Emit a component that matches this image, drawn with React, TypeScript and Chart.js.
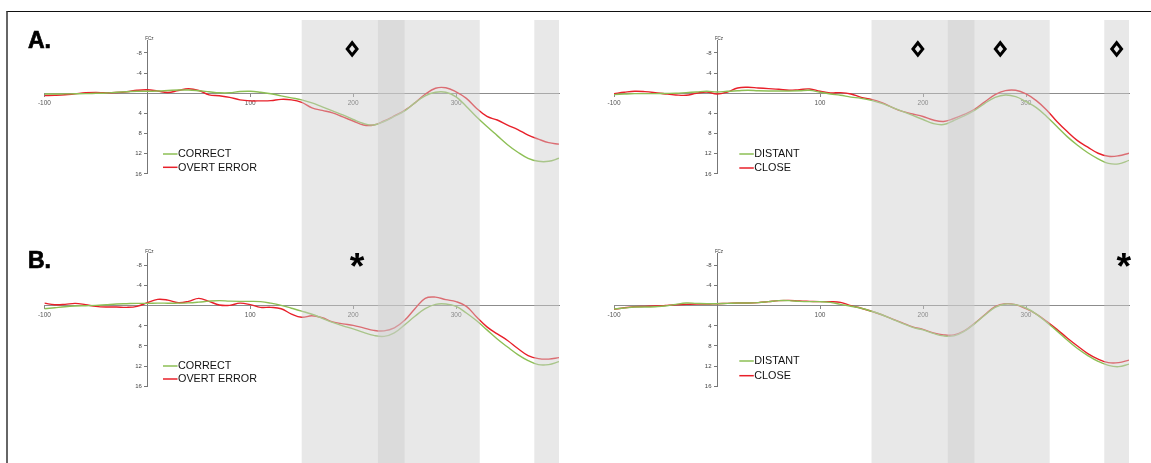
import React, { useEffect, useRef } from "react";
import { Chart, registerables } from "chart.js";

Chart.register(...registerables);

// ---------- data ----------
const TIMES = [
  -100, -90, -80, -70, -60, -50, -40, -30, -20, -10,
  0, 10, 20, 30, 40, 50, 60, 70, 80, 90,
  100, 110, 120, 130, 140, 150, 160, 170, 180, 190,
  200, 210, 220, 230, 240, 250, 260, 270, 280, 290,
  300, 310, 320, 330, 340, 350, 360, 370, 380, 390, 400,
];

const X_TICKS = [-100, 100, 200, 300];
const Y_TICKS = [-8, -4, 4, 8, 12, 16];
const BANDS = [
  [150, 250],
  [224, 323],
  [376, 400],
];

const A_CORRECT = [
  0.15, 0.15, 0.12, 0.1, 0.07, 0.0, -0.07, -0.2, -0.3, -0.4,
  -0.4, -0.45, -0.55, -0.65, -0.65, -0.5, -0.3, -0.1, -0.1, -0.35,
  -0.4, -0.2, 0.1, 0.5, 0.9, 1.3, 1.9, 2.7, 3.5, 4.3,
  5.2, 6.0, 6.3, 5.6, 4.6, 3.5, 1.9, 0.5, -0.2, -0.2,
  0.7, 2.6, 4.7, 6.6, 8.4, 10.2, 11.7, 12.9, 13.5, 13.5, 12.9,
];
const A_OVERT = [
  0.45, 0.4, 0.3, 0.1, -0.1, -0.15, -0.1, -0.15, -0.3, -0.6,
  -0.7, -0.45, -0.15, -0.55, -0.9, -0.55, 0.3, 0.5, 0.8, 1.3,
  1.5, 1.5, 1.45, 1.2, 1.3, 1.8, 2.9, 3.4, 3.9, 4.7,
  5.5, 6.3, 6.3, 5.5, 4.5, 3.4, 1.9, 0.2, -1.0, -1.1,
  -0.3, 1.0, 3.0, 4.6, 5.3, 6.3, 7.2, 8.3, 9.1, 9.8, 10.1,
];
const A_DISTANT = [
  0.26, 0.15, 0.07, 0.07, 0.07, 0.03, 0.0, -0.13, -0.26, -0.4,
  -0.26, -0.4, -0.5, -0.6, -0.5, -0.46, -0.46, -0.46, -0.5, -0.6,
  -0.2, 0.13, 0.4, 0.75, 1.0, 1.4, 2.0, 2.8, 3.6, 4.4,
  5.2, 6.0, 6.2, 5.4, 4.5, 3.4, 2.0, 0.8, 0.33, 0.66,
  1.66, 2.85, 4.6, 6.6, 8.6, 10.3, 11.8, 13.0, 13.9, 14.0, 13.3,
];
const A_CLOSE = [
  0.07, -0.2, -0.4, -0.33, -0.13, 0.13, 0.33, 0.4, 0.0, -0.26,
  0.13, -0.26, -1.06, -1.2, -1.06, -0.93, -0.8, -0.6, -0.73, -0.86,
  -0.4, -0.07, -0.13, 0.13, 0.8, 1.2, 1.85, 2.8, 3.6, 4.1,
  4.6, 5.3, 5.6, 5.0, 4.2, 3.2, 1.7, 0.26, -0.53, -0.6,
  0.13, 1.45, 3.3, 5.6, 7.6, 9.4, 10.7, 11.9, 12.5, 12.4, 11.9,
];
const B_CORRECT = [
  0.6, 0.4, 0.2, 0.07, 0.0, -0.07, -0.2, -0.33, -0.4, -0.46,
  -0.46, -0.5, -0.5, -0.5, -0.55, -0.7, -0.9, -1.0, -0.9, -0.86,
  -0.86, -0.8, -0.5, -0.07, 0.5, 1.08, 1.7, 2.5, 3.3, 4.0,
  4.6, 5.3, 5.9, 6.1, 5.4, 3.8, 2.1, 0.6, -0.26, -0.33,
  0.13, 1.46, 3.0, 4.8, 6.6, 8.2, 9.7, 10.9, 11.7, 11.7, 11.1,
];
const B_OVERT = [
  -0.5, -0.2, -0.26, -0.46, -0.2, 0.13, 0.26, 0.26, 0.33, 0.13,
  -0.6, -1.26, -1.1, -0.6, -0.86, -1.46, -0.86, -0.13, -0.07, -0.5,
  -0.2, 0.33, 0.33, 0.6, 1.66, 2.3, 2.0, 2.4, 3.2, 3.6,
  3.9, 4.4, 4.9, 5.0, 4.4, 2.9, 0.6, -1.46, -1.7, -1.2,
  -0.8, 0.13, 2.25, 4.2, 5.6, 6.9, 8.5, 9.9, 10.5, 10.6, 10.3,
];
const B_DISTANT = [
  0.66, 0.46, 0.26, 0.26, 0.2, 0.07, -0.26, -0.53, -0.46, -0.4,
  -0.4, -0.46, -0.53, -0.53, -0.6, -0.8, -1.0, -1.0, -0.86, -0.8,
  -0.8, -0.66, -0.26, 0.1, 0.5, 1.1, 1.8, 2.65, 3.5, 4.3,
  4.8, 5.5, 6.0, 6.0, 5.1, 3.6, 1.9, 0.33, -0.33, -0.2,
  0.46, 1.66, 3.3, 5.0, 6.8, 8.5, 9.9, 11.06, 11.85, 12.1, 11.6,
];
const B_CLOSE = [
  0.73, 0.4, 0.2, 0.13, 0.07, -0.07, -0.2, -0.26, -0.33, -0.33,
  -0.4, -0.46, -0.53, -0.53, -0.6, -0.8, -1.0, -1.06, -0.93, -0.86,
  -0.8, -0.8, -0.66, 0.0, 0.5, 1.1, 1.8, 2.6, 3.4, 4.2,
  4.7, 5.4, 5.8, 5.8, 5.0, 3.5, 1.8, 0.2, -0.4, -0.2,
  0.6, 1.66, 3.1, 4.7, 6.4, 8.0, 9.5, 10.6, 11.3, 11.3, 10.8,
];

const LABELS_ERROR = ["CORRECT", "OVERT ERROR"];
const LABELS_DIST = ["DISTANT", "CLOSE"];

const A_LEFT_MARKS = [199];
const A_RIGHT_MARKS = [195, 275, 388];
const B_LEFT_MARKS = [197];
const B_RIGHT_MARKS = [388];

// ---------- styling ----------
const GREEN = "#8dbf55";
const RED = "#e8202a";
const FONT = '"Liberation Sans", Arial, sans-serif';

type PanelCfg = {
  left: number;
  top: number;
  w: number;
  h: number;
  xl: number;
  xr: number;
  yt: number;
  yb: number;
  bandTop: number;
  green: number[];
  red: number[];
  labels: string[];
  legendX: number;
  legendY: number[];
  marks: number[];
  markType: "diamond" | "star";
  markY: number;
};

const PANELS: PanelCfg[] = [
  {
    left: 0, top: 0, w: 575, h: 240,
    xl: 44.4, xr: 559, yt: 40.9, yb: 173.9, bandTop: 20,
    green: A_CORRECT, red: A_OVERT, labels: LABELS_ERROR,
    legendX: 163, legendY: [154, 167.3],
    marks: A_LEFT_MARKS, markType: "diamond", markY: -8.8,
  },
  {
    left: 575, top: 0, w: 576, h: 240,
    xl: 39, xr: 554, yt: 40.9, yb: 173.9, bandTop: 20,
    green: A_DISTANT, red: A_CLOSE, labels: LABELS_DIST,
    legendX: 164.3, legendY: [154, 168],
    marks: A_RIGHT_MARKS, markType: "diamond", markY: -8.8,
  },
  {
    left: 0, top: 240, w: 575, h: 223,
    xl: 44.4, xr: 559, yt: 13.3, yb: 146.3, bandTop: 0,
    green: B_CORRECT, red: B_OVERT, labels: LABELS_ERROR,
    legendX: 163, legendY: [126, 139],
    marks: B_LEFT_MARKS, markType: "star", markY: -7.1,
  },
  {
    left: 575, top: 240, w: 576, h: 223,
    xl: 39, xr: 554, yt: 13.3, yb: 146.3, bandTop: 0,
    green: B_DISTANT, red: B_CLOSE, labels: LABELS_DIST,
    legendX: 164.3, legendY: [121, 135.7],
    marks: B_RIGHT_MARKS, markType: "star", markY: -7.1,
  },
];

function makeOverlay(p: PanelCfg) {
  return {
    id: "overlay",
    afterDraw(chart: any) {
      const ctx: CanvasRenderingContext2D = chart.ctx;
      const xs = chart.scales.x;
      const ys = chart.scales.y;
      const area = chart.chartArea;
      ctx.save();

      // y tick labels (left of the centred axis)
      const ax = xs.getPixelForValue(0);
      ctx.font = `6px ${FONT}`;
      ctx.fillStyle = "#444";
      ctx.textAlign = "right";
      ctx.textBaseline = "middle";
      ys.ticks.forEach((t: any) => {
        ctx.fillText(String(t.value), ax - 5.5, ys.getPixelForValue(t.value));
      });

      // legend
      const colors = [GREEN, RED];
      ctx.font = `10.8px ${FONT}`;
      ctx.textBaseline = "middle";
      ctx.textAlign = "left";
      p.labels.forEach((lab, i) => {
        const yy = p.legendY[i];
        ctx.strokeStyle = colors[i];
        ctx.lineWidth = 1.5;
        ctx.beginPath();
        ctx.moveTo(p.legendX, yy);
        ctx.lineTo(p.legendX + 14.5, yy);
        ctx.stroke();
        ctx.fillStyle = "#111";
        ctx.fillText(lab, p.legendX + 15, yy + 0.5);
      });

      // FCz label
      ctx.font = `4.5px ${FONT}`;
      ctx.textAlign = "center";
      ctx.fillStyle = "#333";
      ctx.fillText("FCz", ax + 2, area.top - 2);

      // shaded windows (drawn over the traces)
      ctx.fillStyle = "rgba(203,203,203,0.45)";
      BANDS.forEach(([a, b]) => {
        const x1 = xs.getPixelForValue(a);
        const x2 = xs.getPixelForValue(b);
        ctx.fillRect(x1, p.bandTop, x2 - x1, chart.height - p.bandTop);
      });

      // significance markers
      ctx.fillStyle = "#000";
      ctx.strokeStyle = "#000";
      p.marks.forEach((t) => {
        const cx = xs.getPixelForValue(t);
        const cy = ys.getPixelForValue(p.markY);
        if (p.markType === "diamond") {
          ctx.lineWidth = 3;
          ctx.lineJoin = "miter";
          ctx.beginPath();
          ctx.moveTo(cx, cy - 6.2);
          ctx.lineTo(cx + 4.9, cy);
          ctx.lineTo(cx, cy + 6.2);
          ctx.lineTo(cx - 4.9, cy);
          ctx.closePath();
          ctx.stroke();
        } else {
          ctx.font = `bold 40px ${FONT}`;
          let m = ctx.measureText("*");
          const h0 = m.actualBoundingBoxAscent + m.actualBoundingBoxDescent;
          const fs = (40 * 15) / h0;
          ctx.font = `bold ${fs}px ${FONT}`;
          m = ctx.measureText("*");
          ctx.textAlign = "left";
          ctx.textBaseline = "alphabetic";
          const wR = m.actualBoundingBoxRight;
          const wL = m.actualBoundingBoxLeft;
          const asc = m.actualBoundingBoxAscent;
          const desc = m.actualBoundingBoxDescent;
          ctx.fillText("*", cx - (wR - wL) / 2, cy + (asc - desc) / 2);
        }
      });
      ctx.restore();
    },
  };
}

function Panel({ p }: { p: PanelCfg }) {
  const ref = useRef<HTMLCanvasElement | null>(null);
  useEffect(() => {
    if (!ref.current) return;
    const chart = new Chart(ref.current, {
      type: "line",
      data: {
        datasets: [
          {
            label: p.labels[0],
            data: TIMES.map((t, i) => ({ x: t, y: p.green[i] })),
            borderColor: GREEN,
            borderWidth: 1.4,
            pointRadius: 0,
            tension: 0.4,
            fill: false,
          },
          {
            label: p.labels[1],
            data: TIMES.map((t, i) => ({ x: t, y: p.red[i] })),
            borderColor: RED,
            borderWidth: 1.4,
            pointRadius: 0,
            tension: 0.4,
            fill: false,
          },
        ],
      },
      options: {
        responsive: false,
        animation: false,
        events: [],
        layout: {
          padding: {
            left: p.xl,
            right: p.w - p.xr,
            top: p.yt,
            bottom: p.h - p.yb,
          },
        },
        plugins: {
          legend: { display: false },
          tooltip: { enabled: false },
        },
        scales: {
          x: {
            type: "linear",
            min: -100,
            max: 400,
            position: { y: 0 } as any,
            afterFit: (s: any) => {
              s.height = 0;
            },
            afterBuildTicks: (s: any) => {
              s.ticks = X_TICKS.map((v) => ({ value: v }));
            },
            grid: {
              display: true,
              drawOnChartArea: false,
              drawTicks: true,
              tickLength: 3,
              tickColor: "#888",
              lineWidth: 1,
            },
            border: { display: true, color: "#8c8c8c", width: 1 },
            ticks: {
              autoSkip: false,
              maxRotation: 0,
              padding: 3,
              color: "#555",
              font: { size: 6.5, family: FONT },
              callback: (v: any) => String(v),
            },
          },
          y: {
            type: "linear",
            min: -10.4,
            max: 16,
            reverse: true,
            position: { x: 0 } as any,
            afterFit: (s: any) => {
              s.width = 0;
            },
            afterBuildTicks: (s: any) => {
              s.ticks = Y_TICKS.map((v) => ({ value: v }));
            },
            grid: {
              display: true,
              drawOnChartArea: false,
              drawTicks: true,
              tickLength: 3,
              tickColor: "#777",
              lineWidth: 1,
            },
            border: { display: true, color: "#777", width: 1 },
            ticks: {
              display: false,
              autoSkip: false,
            },
          },
        },
      },
      plugins: [makeOverlay(p)],
    } as any);
    return () => chart.destroy();
  }, [p]);
  return (
    <canvas
      ref={ref}
      width={p.w}
      height={p.h}
      style={{
        position: "absolute",
        left: p.left,
        top: p.top,
        width: p.w,
        height: p.h,
        display: "block",
      }}
    />
  );
}

const letterStyle: React.CSSProperties = {
  position: "absolute",
  left: 28,
  fontFamily: FONT,
  fontWeight: 700,
  fontSize: 23,
  lineHeight: "23px",
  color: "#000",
  WebkitTextStroke: "0.7px #000",
};

export default function App() {
  return (
    <div
      style={{
        position: "fixed",
        left: 0,
        top: 0,
        width: 1151,
        height: 463,
        background: "#fff",
        overflow: "hidden",
      }}
    >
      <div
        style={{
          position: "absolute",
          left: 6,
          top: 10.5,
          width: 1160,
          height: 470,
          borderTop: "1.5px solid #111",
          borderLeft: "2px solid #666",
        }}
      />
      {PANELS.map((p, i) => (
        <Panel key={i} p={p} />
      ))}
      <div style={{ ...letterStyle, top: 29 }}>A.</div>
      <div style={{ ...letterStyle, top: 248.5 }}>B.</div>
    </div>
  );
}
